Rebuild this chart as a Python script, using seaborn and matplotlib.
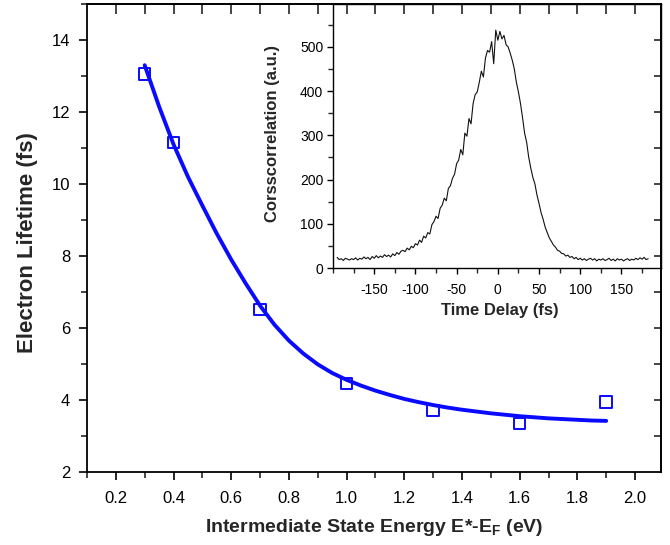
import numpy as np
import matplotlib
matplotlib.use("Agg")
import matplotlib.pyplot as plt
from matplotlib.ticker import MultipleLocator
import seaborn as sns

# ---------------- data ----------------
energy = [0.3, 0.4, 0.7, 1.0, 1.3, 1.6, 1.9]
lifetime = [13.06, 11.15, 6.52, 4.46, 3.71, 3.34, 3.95]

fit_energy = [0.3, 0.35, 0.4, 0.45, 0.5, 0.55, 0.6, 0.65, 0.7, 0.75, 0.8,
              0.85, 0.9, 0.95, 1.0, 1.05, 1.1, 1.15, 1.2, 1.25, 1.3,
              1.35, 1.4, 1.45, 1.5, 1.55, 1.6, 1.65, 1.7, 1.75, 1.8, 1.85, 1.9]
fit_lifetime = [13.30, 12.15, 11.10, 10.20, 9.40, 8.62, 7.90, 7.24, 6.62, 6.09, 5.65,
                5.29, 4.99, 4.75, 4.56, 4.40, 4.26, 4.14, 4.03, 3.94, 3.86,
                3.79, 3.73, 3.68, 3.63, 3.59, 3.55, 3.52, 3.49, 3.47, 3.45, 3.43, 3.42]

delay_start = -195.0
delay_step = 2.5
corr_counts = [
    24, 19, 21, 17, 22, 20, 18, 21, 19, 23, 18, 22, 20, 25, 21, 24, 19, 26, 22, 28,
    23, 27, 24, 30, 26, 29, 25, 32, 28, 35, 31, 38, 40, 37, 45, 41, 49, 46, 55, 52,
    63, 58, 72, 68, 80, 77, 98, 105, 117, 112, 135, 142, 158, 152, 180, 186, 203, 212, 236, 244,
    268, 256, 305, 298, 338, 326, 372, 392, 398, 420, 445, 432, 475, 492, 488, 512, 462, 538, 515, 535,
    518, 526, 505, 500, 486, 470, 450, 420, 398, 372, 340, 305, 284, 250, 226, 205, 190, 165, 146, 125,
    110, 92, 80, 68, 60, 52, 47, 40, 38, 33, 32, 27, 29, 24, 26, 21, 24, 19, 22, 18,
    21, 17, 20, 22, 18, 21, 16, 20, 18, 21, 17, 19, 22, 17, 20, 16, 21, 18, 20, 16,
    19, 21, 17, 20, 18, 22, 19, 23, 20, 24, 19, 21,
]
time_delay = delay_start + delay_step * np.arange(len(corr_counts))

main_xticks = [0.2, 0.4, 0.6, 0.8, 1.0, 1.2, 1.4, 1.6, 1.8, 2.0]
main_yticks = [2, 4, 6, 8, 10, 12, 14]
inset_xticks = [-150, -100, -50, 0, 50, 100, 150]
inset_yticks = [0, 100, 200, 300, 400, 500]

# ---------------- style ----------------
sns.set_style("ticks")
plt.rcParams['font.family'] = ['Liberation Sans', 'DejaVu Sans']
plt.rcParams['axes.unicode_minus'] = False
plt.rcParams['mathtext.fontset'] = 'custom'
plt.rcParams['mathtext.rm'] = 'Liberation Sans'
plt.rcParams['mathtext.bf'] = 'Liberation Sans:bold'

BLUE = '#0a0aff'

fig = plt.figure(figsize=(6.7, 5.45), dpi=100)
fig.patch.set_facecolor('white')

ax = fig.add_axes([87/670, 1 - 472/545, (661 - 87)/670, (472 - 4)/545])
axin = fig.add_axes([333/670, 1 - 268/545, (661 - 333)/670, (268 - 4)/545])
ax.set_zorder(2)
axin.set_zorder(1)
ax.patch.set_alpha(0)
axin.set_facecolor('white')

# ---------------- main plot ----------------
sns.lineplot(x=fit_energy, y=fit_lifetime, color=BLUE, linewidth=2.8,
             sort=False, ax=ax, solid_capstyle='round', solid_joinstyle='round')
sns.scatterplot(x=energy, y=lifetime, marker='s', s=68, facecolors='none',
                edgecolor=BLUE, linewidth=1.4, ax=ax, zorder=5)

ax.set_xlim(0.1, 2.09)
ax.set_ylim(2, 15)
ax.set_xticks(main_xticks)
ax.set_xticklabels([f"{v:.1f}" for v in main_xticks])
ax.set_yticks(main_yticks)
ax.xaxis.set_minor_locator(MultipleLocator(0.1))
ax.yaxis.set_minor_locator(MultipleLocator(1))
for s in ax.spines.values():
    s.set_linewidth(1.3)
    s.set_color('black')
    s.set_visible(True)
ax.tick_params(axis='both', which='major', direction='out', length=6, width=1.2,
               labelsize=12, colors='black')
ax.tick_params(axis='both', which='minor', direction='out', length=4.5, width=1.2)
ax.tick_params(axis='x', which='major', pad=7.5)
ax.tick_params(axis='y', which='major', pad=6)

sec_top = ax.secondary_xaxis('top')
sec_top.set_xticks(np.round(np.arange(0.2, 2.05, 0.1), 1))
sec_top.tick_params(direction='in', length=7, width=1.2, labeltop=False)
sec_top.spines['top'].set_linewidth(1.3)
sec_right = ax.secondary_yaxis('right')
sec_right.set_yticks(list(range(3, 15)))
sec_right.tick_params(direction='in', length=5, width=1.2, labelright=False)
sec_right.spines['right'].set_linewidth(1.3)

ax.set_xlabel(r"Intermediate State Energy E*-E$_\mathbf{F}$ (eV)",
              fontsize=14, fontweight='bold')
ax.set_ylabel("Electron Lifetime (fs)", fontsize=16, fontweight='bold')
ax.xaxis.label.set_verticalalignment('center')
ax.yaxis.label.set_verticalalignment('center')
ax.xaxis.set_label_coords(0.5, (472 - 527) / 468)
ax.yaxis.set_label_coords((28 - 87) / 574, 0.49)

# ---------------- inset ----------------
sns.lineplot(x=time_delay, y=corr_counts, color='#111111', linewidth=0.8, ax=axin)
axin.set_xlim(-200, 198)
axin.set_ylim(0, 597)
axin.set_xticks(inset_xticks)
axin.set_yticks(inset_yticks)
axin.xaxis.set_minor_locator(MultipleLocator(25))
axin.yaxis.set_minor_locator(MultipleLocator(50))
for s in axin.spines.values():
    s.set_linewidth(1.0)
    s.set_color('black')
    s.set_visible(True)
axin.tick_params(axis='both', which='major', direction='out', length=4.5, width=1.0,
                 labelsize=10, colors='black')
axin.tick_params(axis='both', which='minor', direction='out', length=3.5, width=1.0)
axin.tick_params(axis='x', which='major', pad=6)
axin.tick_params(axis='y', which='major', pad=2.5)
axin.set_xlabel("Time Delay (fs)", fontsize=12, fontweight='bold')
axin.set_ylabel("Corsscorrelation (a.u.)", fontsize=12, fontweight='bold')
axin.xaxis.label.set_verticalalignment('center')
axin.yaxis.label.set_verticalalignment('center')
axin.xaxis.set_label_coords(0.51, (268 - 310) / 264)
axin.yaxis.set_label_coords((273 - 333) / 328, 0.51)

fig.savefig("out.png", dpi=100, facecolor='white')
